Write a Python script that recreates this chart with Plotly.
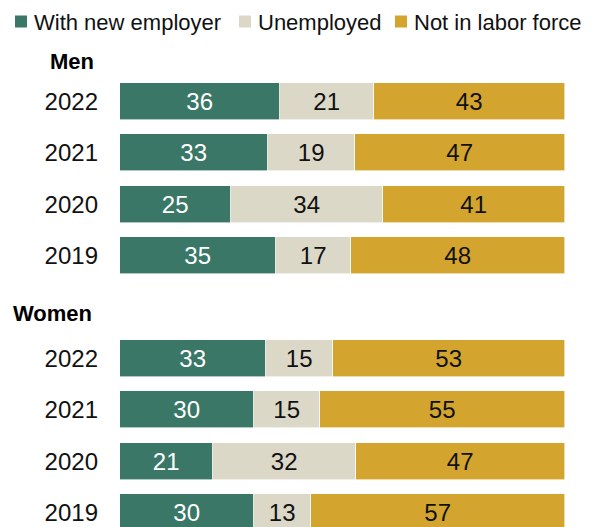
import plotly.graph_objects as go

years = ["2022", "2021", "2020", "2019"]
series_names = ["With new employer", "Unemployed", "Not in labor force"]

# displayed (rounded) labels
men_new = [36, 33, 25, 35]
men_unemp = [21, 19, 34, 17]
men_nilf = [43, 47, 41, 48]
women_new = [33, 30, 21, 30]
women_unemp = [15, 15, 32, 13]
women_nilf = [53, 55, 47, 57]

# bar lengths (unrounded shares)
men_new_len = [36, 33.3, 25, 35]
men_unemp_len = [21, 19.4, 34, 17]
men_nilf_len = [43, 47.3, 41, 48]
women_new_len = [32.8, 30, 21, 30]
women_unemp_len = [15.1, 15, 32, 13]
women_nilf_len = [52.1, 55, 47, 57]

colors = ["#3A7767", "#DBD8C8", "#D3A52F"]
text_colors = ["white", "#111111", "#111111"]

men_pos = [0, 1, 2, 3]
women_pos = [5, 6, 7, 8]
positions = men_pos + women_pos
labels = years + years

lengths = [men_new_len + women_new_len, men_unemp_len + women_unemp_len, men_nilf_len + women_nilf_len]
texts = [men_new + women_new, men_unemp + women_unemp, men_nilf + women_nilf]

fig = go.Figure()
for name, vals, txt, c, tc in zip(series_names, lengths, texts, colors, text_colors):
    fig.add_trace(go.Bar(
        y=positions, x=vals, name=name, orientation="h",
        marker=dict(color=c, line=dict(color="white", width=0.6)),
        width=0.72,
        text=[str(v) for v in txt], textposition="inside",
        insidetextanchor="middle", textangle=0,
        textfont=dict(color=tc, size=24, family="Liberation Sans"),
        hoverinfo="skip", showlegend=False,
    ))

W, H = 597, 527
L, R = 120, 32
PW = W - L - R

def px_x(px):
    return (px - L) / PW

def px_y(py):
    return 1 - py / H

fig.update_layout(
    barmode="stack",
    width=W, height=H,
    margin=dict(l=L, r=R, t=0, b=0),
    paper_bgcolor="white", plot_bgcolor="white",
    font=dict(family="Liberation Sans", size=22, color="#111111"),
    showlegend=False,
    xaxis=dict(range=[0, 100], visible=False, fixedrange=True),
    yaxis=dict(range=[8.278, -1.975], tickvals=positions, ticktext=labels,
               showgrid=False, zeroline=False, showline=False, ticks="",
               ticklabelstandoff=21, tickfont=dict(size=24, color="#111111")),
    bargap=0,
)

# legend (squares + text), coloured from the series colours
sq_x = [15, 239, 395]
tx_x = [32, 256, 412]
for name, c, sx, tx in zip(series_names, colors, sq_x, tx_x):
    fig.add_shape(type="rect", xref="paper", yref="paper",
                  x0=px_x(sx), x1=px_x(sx + 12), y0=px_y(27.5), y1=px_y(15.5),
                  fillcolor=c, line=dict(width=0))
    fig.add_annotation(text=name, xref="paper", yref="paper", x=px_x(tx), y=px_y(22),
                       xanchor="left", yanchor="middle", showarrow=False,
                       font=dict(size=22, color="#111111"))

fig.add_annotation(text="<b>Men</b>", xref="paper", yref="y", x=px_x(48), y=(61 - 101.5) / 51.4,
                   xanchor="left", yanchor="middle", showarrow=False,
                   font=dict(size=22, color="#000000"))
fig.add_annotation(text="<b>Women</b>", xref="paper", yref="y", x=px_x(11), y=(313 - 101.5) / 51.4,
                   xanchor="left", yanchor="middle", showarrow=False,
                   font=dict(size=22, color="#000000"))

fig.write_html("out.html")
